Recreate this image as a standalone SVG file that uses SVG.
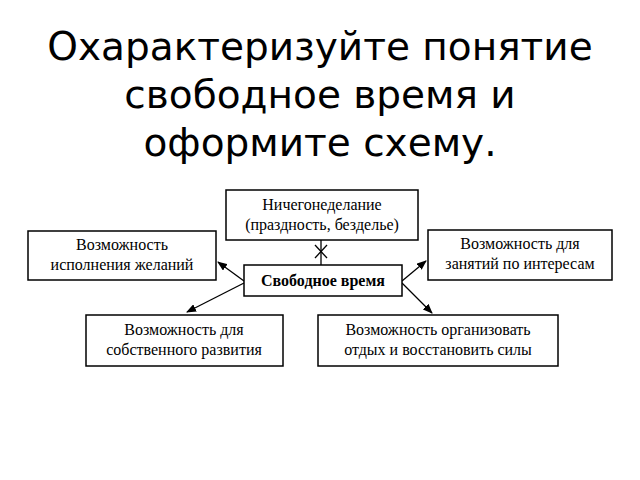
<svg xmlns="http://www.w3.org/2000/svg" width="640" height="480" viewBox="0 0 640 480">
<style>
.t{font-family:"DejaVu Sans","Noto Sans",sans-serif;font-size:39px;fill:#000;text-anchor:middle}
.b rect{fill:#fff;stroke:#000;stroke-width:1.5}
.b text{font-family:"Liberation Serif","Times New Roman",serif;font-size:16px;text-anchor:middle;fill:#000}
.c line{stroke:#000;stroke-width:1.3}
</style>
<defs><marker id="a" markerWidth="10" markerHeight="8" refX="9" refY="4" orient="auto" markerUnits="userSpaceOnUse"><path d="M0,0 L10,4 L0,8 z" fill="#000"/></marker></defs>
<rect width="640" height="480" fill="#fff"/>
<text class="t" x="320" y="60">Охарактеризуйте понятие</text>
<text class="t" x="320" y="108">свободное время и</text>
<text class="t" x="320" y="156">оформите схему.</text>
<g class="c">
<line x1="321" y1="265" x2="321" y2="240"/>
<line x1="315" y1="245" x2="327" y2="258"/>
<line x1="327" y1="245" x2="315" y2="258"/>
<line x1="244" y1="281" x2="218" y2="262" marker-end="url(#a)"/>
<line x1="244" y1="283" x2="187" y2="312" marker-end="url(#a)"/>
<line x1="402" y1="281" x2="426" y2="261" marker-end="url(#a)"/>
<line x1="402" y1="283" x2="432" y2="313" marker-end="url(#a)"/>
</g>
<g class="b" id="n0"><rect x="226" y="190" width="192" height="50"/><text x="322" y="210">Ничегонеделание</text><text x="322" y="230">(праздность, безделье)</text></g>
<g class="b" id="n1"><rect x="28" y="231" width="188" height="49"/><text x="122" y="250">Возможность</text><text x="122" y="270">исполнения желаний</text></g>
<g class="b" id="n2"><rect x="244" y="265" width="158" height="31"/><text x="323" y="286" font-weight="bold">Свободное время</text></g>
<g class="b" id="n3"><rect x="428" y="230" width="184" height="50"/><text x="520" y="249">Возможность для</text><text x="520" y="269">занятий по интересам</text></g>
<g class="b" id="n4"><rect x="86" y="315" width="197" height="51"/><text x="184" y="335">Возможность для</text><text x="184" y="355">собственного развития</text></g>
<g class="b" id="n5"><rect x="318" y="315" width="240" height="51"/><text x="438" y="335">Возможность организовать</text><text x="438" y="355">отдых и восстановить силы</text></g>
</svg>
